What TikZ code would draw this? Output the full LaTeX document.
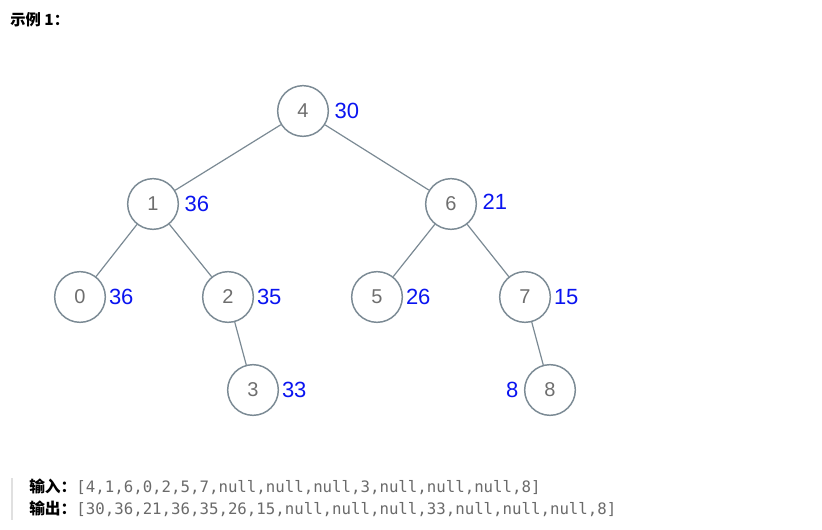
\documentclass[tikz,border=0pt]{standalone}
\usepackage{fontspec}
\setmainfont{Liberation Sans}
\setmonofont{DejaVu Sans Mono}
\newfontfamily\cjk{Noto Sans CJK SC}
\usetikzlibrary{positioning}
\definecolor{edgegray}{HTML}{7B8A94}
\definecolor{keygray}{HTML}{6E6E6E}
\definecolor{sumblue}{HTML}{0A14F0}
\definecolor{codegray}{HTML}{6A6A6A}
\tikzset{
  treenode/.style={circle,draw=edgegray,line width=1.1pt,minimum size=38pt,
    inner sep=0pt,text=keygray,font=\fontsize{15}{18}\selectfont},
  treeedge/.style={draw=edgegray,line width=0.9pt},
  sumlabel/.style={text=sumblue,inner sep=1pt,font=\fontsize{16.5}{19}\selectfont},
  codeline/.style={anchor=west,inner sep=0pt,font=\fontsize{11.8}{14}\selectfont}
}

\begin{document}
\begin{tikzpicture}[x=0.75pt,y=-0.75pt]
  \useasboundingbox (0,0) rectangle (822,530);
  \node[anchor=west,inner sep=0pt,font=\cjk\bfseries\fontsize{11.5}{13}\selectfont]
    (title) at (10,20) {示例 1：};
  % tree nodes
  \node[treenode] (n4) at (303,111) {4};
  \node[treenode] (n1) at (153,204) {1};
  \node[treenode] (n6) at (451,204) {6};
  \node[treenode] (n0) at (80,297) {0};
  \node[treenode] (n2) at (228,297) {2};
  \node[treenode] (n5) at (377,297) {5};
  \node[treenode] (n7) at (525,297) {7};
  \node[treenode] (n3) at (253,390) {3};
  \node[treenode] (n8) at (550,390) {8};
  \draw[treeedge] (n4) -- (n1);
  \draw[treeedge] (n4) -- (n6);
  \draw[treeedge] (n1) -- (n0);
  \draw[treeedge] (n1) -- (n2);
  \draw[treeedge] (n6) -- (n5);
  \draw[treeedge] (n6) -- (n7);
  \draw[treeedge] (n2) -- (n3);
  \draw[treeedge] (n7) -- (n8);
  % accumulated sums
  \node[sumlabel,right=3pt of n4] (s4) {30};
  \node[sumlabel,right=3pt of n1] (s1) {36};
  \node[sumlabel,right=3pt of n6,yshift=1.5pt] (s6) {21};
  \node[sumlabel,right=1pt of n0] (s0) {36};
  \node[sumlabel,right=1pt of n2] (s2) {35};
  \node[sumlabel,right=1pt of n5] (s5) {26};
  \node[sumlabel,right=1pt of n7] (s7) {15};
  \node[sumlabel,right=1pt of n3] (s3) {33};
  \node[sumlabel,left=3pt of n8] (s8) {8};
  % input / output
  \draw[draw=black!12,line width=2.2pt] (12,478) -- (12,520);
  \node[codeline] (inlabel) at (29,487)
    {{\cjk\bfseries 输入：}\textcolor{codegray}{\ttfamily[4,1,6,0,2,5,7,null,null,null,3,null,null,null,8]}};
  \node[codeline] (outlabel) at (29,509)
    {{\cjk\bfseries 输出：}\textcolor{codegray}{\ttfamily[30,36,21,36,35,26,15,null,null,null,33,null,null,null,8]}};
\end{tikzpicture}
\end{document}
